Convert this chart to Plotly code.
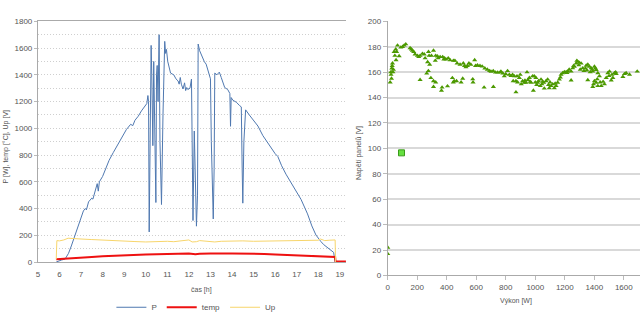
import plotly.graph_objects as go

# ---- Left chart data: time [h] vs P [W], temp [°C], Up [V]
t_P = [5.85, 5.95, 6.1, 6.26, 6.35, 6.42, 6.55, 6.65, 6.8, 6.95, 7.11, 7.2, 7.25, 7.35, 7.5, 7.55,
       7.65, 7.75, 7.8, 7.85, 8.0, 8.15, 8.3, 8.5, 8.7, 8.9, 9.1, 9.3, 9.4, 9.5, 9.65, 9.8, 9.95,
       10.05, 10.1, 10.13, 10.16, 10.2, 10.25, 10.28, 10.31, 10.33, 10.37, 10.42, 10.47, 10.5,
       10.53, 10.57, 10.62, 10.66, 10.73, 10.8, 10.88, 10.92, 10.96, 11.02, 11.1, 11.15, 11.3,
       11.4, 11.5, 11.55, 11.6, 11.65, 11.73, 11.8, 11.85, 11.9, 11.95, 12.05, 12.12, 12.15,
       12.19, 12.25, 12.3, 12.35, 12.4, 12.43, 12.5, 12.58, 12.65, 12.72, 12.8, 12.88, 12.96,
       13.0, 13.04, 13.13, 13.17, 13.2, 13.3, 13.41, 13.5, 13.66, 13.8, 13.9, 13.93, 13.96,
       14.04, 14.2, 14.35, 14.43, 14.47, 14.5, 14.55, 14.63, 14.8, 15.0, 15.2, 15.43, 15.7,
       16.0, 16.12, 16.3, 16.5, 16.8, 17.0, 17.2, 17.5, 17.7, 17.89, 18.0, 18.12, 18.25, 18.43,
       18.6, 18.71, 18.78]
P = [0, 8, 15, 22, 45, 65, 120, 166, 240, 310, 382, 400, 390, 450, 478, 470,
     540, 586, 530, 600, 640, 700, 760, 820, 880, 940, 990, 1030, 1020, 1060, 1090, 1130, 1165,
     1185, 1245, 1200, 225, 700, 1620, 1400, 990, 870, 1500, 900, 445, 1400,
     1470, 1200, 1700, 900, 430, 1100, 1650, 1560, 1590, 1500, 1440, 1413, 1400,
     1370, 1354, 1330, 1380, 1330, 1294, 1340, 1282, 1305, 1290, 1300, 1368, 650,
     310, 980, 600, 268, 500, 1630, 1580, 1548, 1520, 1497, 1480, 1440, 1400,
     1370, 900, 322, 700, 1413, 1400, 1420, 1380, 1305, 1290, 1260, 1015, 1230,
     1210, 1195, 1170, 1160, 700, 440, 900, 1138, 1100, 1060, 1017, 945, 880,
     810, 790, 720, 657, 580, 520, 468, 360, 270, 202, 175, 153, 130, 108,
     85, 72, 0]

t_Up = [5.85, 5.88, 6.0, 6.2, 6.4, 6.6, 7.0, 7.5, 8.0, 8.5, 9.0, 9.5, 10.0, 10.3, 10.5, 10.7,
        11.0, 11.3, 11.6, 12.0, 12.15, 12.35, 12.5, 13.0, 13.2, 13.5, 14.0, 14.5, 15.0, 15.5,
        16.0, 16.5, 17.0, 17.5, 18.0, 18.1, 18.3, 18.5, 18.78, 18.8]
Up = [20, 160, 158, 165, 178, 175, 172, 168, 163, 160, 155, 153, 150, 152, 148, 153,
      155, 152, 158, 165, 150, 152, 160, 152, 150, 155, 158, 158, 155, 156,
      157, 158, 159, 160, 163, 172, 160, 163, 165, 0]

t_temp = [5.85, 6.5, 7.0, 7.5, 8.0, 8.5, 9.0, 9.5, 10.0, 10.5, 11.0, 11.5, 12.0, 12.3, 12.5,
          13.0, 13.3, 13.5, 14.0, 14.5, 15.0, 15.5, 16.0, 16.5, 17.0, 17.5, 18.0, 18.5, 18.78,
          18.8, 19.3]
temp = [20, 25, 32, 38, 44, 48, 52, 55, 57, 58, 60, 62, 63, 58, 62,
        63, 60, 63, 64, 64, 63, 60, 57, 54, 50, 47, 43, 40, 38,
        3, 3]

# ---- Right chart data: power [W] vs panel voltage [V]
P_s = [16, 20, 22, 25, 27, 30, 32, 35, 38, 43, 48, 54, 56, 60, 66, 77, 88, 100, 111, 122,
       151, 160, 167, 176, 185, 201, 210, 219, 235, 219, 247, 253, 264, 270, 275, 284, 276,
       280, 296, 310, 292, 310, 310, 325, 325, 322, 337, 342, 355, 364, 368, 372, 380, 385,
       395, 405, 410, 422, 438, 444, 450, 466, 445, 455, 470, 490, 497, 508, 512, 520, 530,
       540, 550, 563, 576, 578, 589, 595, 608, 625, 640, 658, 675, 690, 700, 715, 730, 745,
       762, 653, 716,
       767, 790, 812, 824, 846, 858, 869, 869, 876, 892, 898, 914, 925, 937, 944, 960, 971,
       982, 987, 993, 1004, 1016, 1022, 1034, 1039, 1057, 1061, 1073, 1084, 1095, 1107, 1118,
       1129, 1141, 1152, 1163, 1175, 1186, 1197, 1209, 1220, 1243, 1243, 1254, 1265, 1277,
       1288, 1299, 1311, 1322, 1345, 1356, 1356, 1367, 1379, 1390, 1390, 1401, 1401, 1413,
       1413, 1424, 1424, 1435, 1447, 1469, 1481, 1492, 1503, 1515, 1526, 1537, 1549, 1594,
       1605, 1616, 1639, 1691,
       780, 800, 835, 850, 880, 905, 930, 950, 965, 1000, 1010, 1045, 1050, 1090, 1100, 1135,
       1170, 1215, 1230, 1260, 1282, 1295, 1305, 1330, 1340, 1350, 1372, 1385, 1395, 1408,
       1420, 1440, 1460, 1500, 1520, 1545]
V_s = [152, 160, 158, 155, 163, 165, 167, 160, 162, 176, 173, 178, 169.5, 176, 181, 172.7,
       179.5, 180, 181, 182, 179, 178, 177, 176, 174, 173, 172, 173, 174.5, 154, 174, 171,
       159, 168, 161, 166, 176, 173, 173, 177, 155.5, 153, 148.5, 152, 173, 169, 172.5, 171,
       172, 145.5, 148, 172, 170, 171, 170, 149, 171, 169.5, 155.5, 152, 153, 153, 169, 169,
       167, 166, 152, 155, 167, 165, 164, 165, 167, 166, 154.5, 152, 169.5, 165, 165.5, 165,
       164.5, 163, 162, 161, 160.5, 161, 159.8, 159.8, 159.8, 148, 148.5,
       160.6, 156.8, 161, 158, 158, 156.8, 144.2, 153, 156.8, 155.6, 158, 153, 151.8, 151.8,
       160, 155.6, 151.8, 156.8, 145.5, 156.8, 155.6, 151.8, 153, 149.2, 154.3, 151.8, 147.2,
       153, 154.3, 147.5, 149.2, 150.5, 147.5, 149.2, 151.8, 154.3, 158.1, 159.3, 160.1,
       160.1, 160.6, 153.6, 160.6, 163.1, 164.4, 166.9, 168.2, 167.5, 166.9, 163.1, 165.2,
       166, 153.8, 164.4, 163.1, 160.6, 148.5, 164.4, 153, 161.9, 151.8, 159.3, 149.2, 156.8,
       149.2, 150.5, 155.6, 159.3, 160.6, 153.6, 155.6, 159.3, 158.6, 156.3, 158.6, 159.3,
       158.1, 160.6,
       159, 158.5, 157, 153, 152, 150.5, 153.5, 154, 152.5, 152, 150, 150.5, 152.5, 150, 152,
       151, 156, 159.5, 162, 165, 169, 165.5, 162, 161, 163, 161.5, 160, 162, 150.5, 163,
       154.5, 152, 152.5, 157, 158, 160]
P_low = [0, 0]
V_low = [22, 17]
P_sq = [93]
V_sq = [96.5]

tick_font = dict(family="Liberation Sans, Arial, sans-serif", size=8, color="#555")
title_font = dict(family="Liberation Sans, Arial, sans-serif", size=7, color="#555")

fig = go.Figure()
fig.add_trace(go.Scatter(x=t_P, y=P, mode="lines", name="P",
                         line=dict(color="#4f78b0", width=1), xaxis="x", yaxis="y"))
fig.add_trace(go.Scatter(x=t_temp, y=temp, mode="lines", name="temp",
                         line=dict(color="#ee1111", width=2), xaxis="x", yaxis="y"))
fig.add_trace(go.Scatter(x=t_Up, y=Up, mode="lines", name="Up",
                         line=dict(color="#f7d56b", width=1), xaxis="x", yaxis="y"))

fig.add_trace(go.Scatter(x=P_s + P_low, y=V_s + V_low, mode="markers", showlegend=False,
                         marker=dict(symbol="triangle-up", size=4.5, color="#4c9900",
                                     line=dict(width=0)), xaxis="x2", yaxis="y2"))
fig.add_trace(go.Scatter(x=P_sq, y=V_sq, mode="markers", showlegend=False,
                         marker=dict(symbol="square", size=6, color="#66e040",
                                     line=dict(width=1, color="#3a9a1a")),
                         xaxis="x2", yaxis="y2"))

fig.update_layout(
    width=640, height=322, autosize=False,
    margin=dict(l=0, r=0, t=0, b=0, pad=0),
    paper_bgcolor="white", plot_bgcolor="white",
    font=tick_font,
    xaxis=dict(domain=[36 / 640, 345 / 640], range=[5, 19.28], dtick=1, tick0=5,
               showgrid=False, zeroline=False, showline=True, linecolor="#aaa", linewidth=1,
               mirror=True, ticks="", ticklabelstandoff=4, tickfont=tick_font, anchor="y"),
    yaxis=dict(domain=[1 - 268 / 322, 1 - 18 / 322], range=[0, 1800], dtick=200, tick0=0,
               showgrid=True, gridcolor="#cfcfcf", griddash="1px,2px", gridwidth=1,
               minor=dict(dtick=100, showgrid=True, gridcolor="#cfcfcf", griddash="1px,2px"),
               zeroline=False, showline=True, linecolor="#aaa", linewidth=1,
               ticks="outside", ticklen=3, tickcolor="#bbb", tickfont=tick_font, anchor="x"),
    xaxis2=dict(domain=[387 / 640, 1.0], range=[0, 1710], dtick=200, tick0=0,
                showgrid=False, zeroline=False, showline=True, linecolor="#aaa", linewidth=1,
                ticks="outside", ticklen=4, tickcolor="#bbb", tickfont=tick_font, anchor="y2"),
    yaxis2=dict(domain=[1 - 282 / 322, 1 - 18 / 322], range=[0, 200], dtick=20, tick0=0,
                showgrid=True, gridcolor="#d9d9d9", gridwidth=1.5,
                zeroline=False, showline=True, linecolor="#aaa", linewidth=1,
                ticks="outside", ticklen=4, tickcolor="#bbb", tickfont=tick_font, anchor="x2"),
    showlegend=True,
    legend=dict(orientation="h", x=195 / 640, xanchor="center", y=1 - 315 / 322,
                yanchor="middle", font=dict(family="Liberation Sans, Arial, sans-serif",
                                            size=8, color="#555"),
                itemwidth=30, tracegroupgap=0, bgcolor="rgba(0,0,0,0)"),
    annotations=[
        dict(text="P [W], temp [°C], Up [V]", textangle=-90, xref="paper", yref="paper",
             x=5 / 640, y=1 - 148 / 322, showarrow=False, font=title_font,
             xanchor="center", yanchor="middle"),
        dict(text="čas [h]", xref="paper", yref="paper", x=200 / 640, y=1 - 297 / 322,
             showarrow=False, font=title_font, xanchor="center", yanchor="middle"),
        dict(text="Napětí panelů [V]", textangle=-90, xref="paper", yref="paper",
             x=358 / 640, y=1 - 155 / 322, showarrow=False, font=title_font,
             xanchor="center", yanchor="middle"),
        dict(text="Výkon [W]", xref="paper", yref="paper", x=516 / 640, y=1 - 309 / 322,
             showarrow=False, font=title_font, xanchor="center", yanchor="middle"),
    ],
)

fig.write_html("out.html", config={"responsive": False})
